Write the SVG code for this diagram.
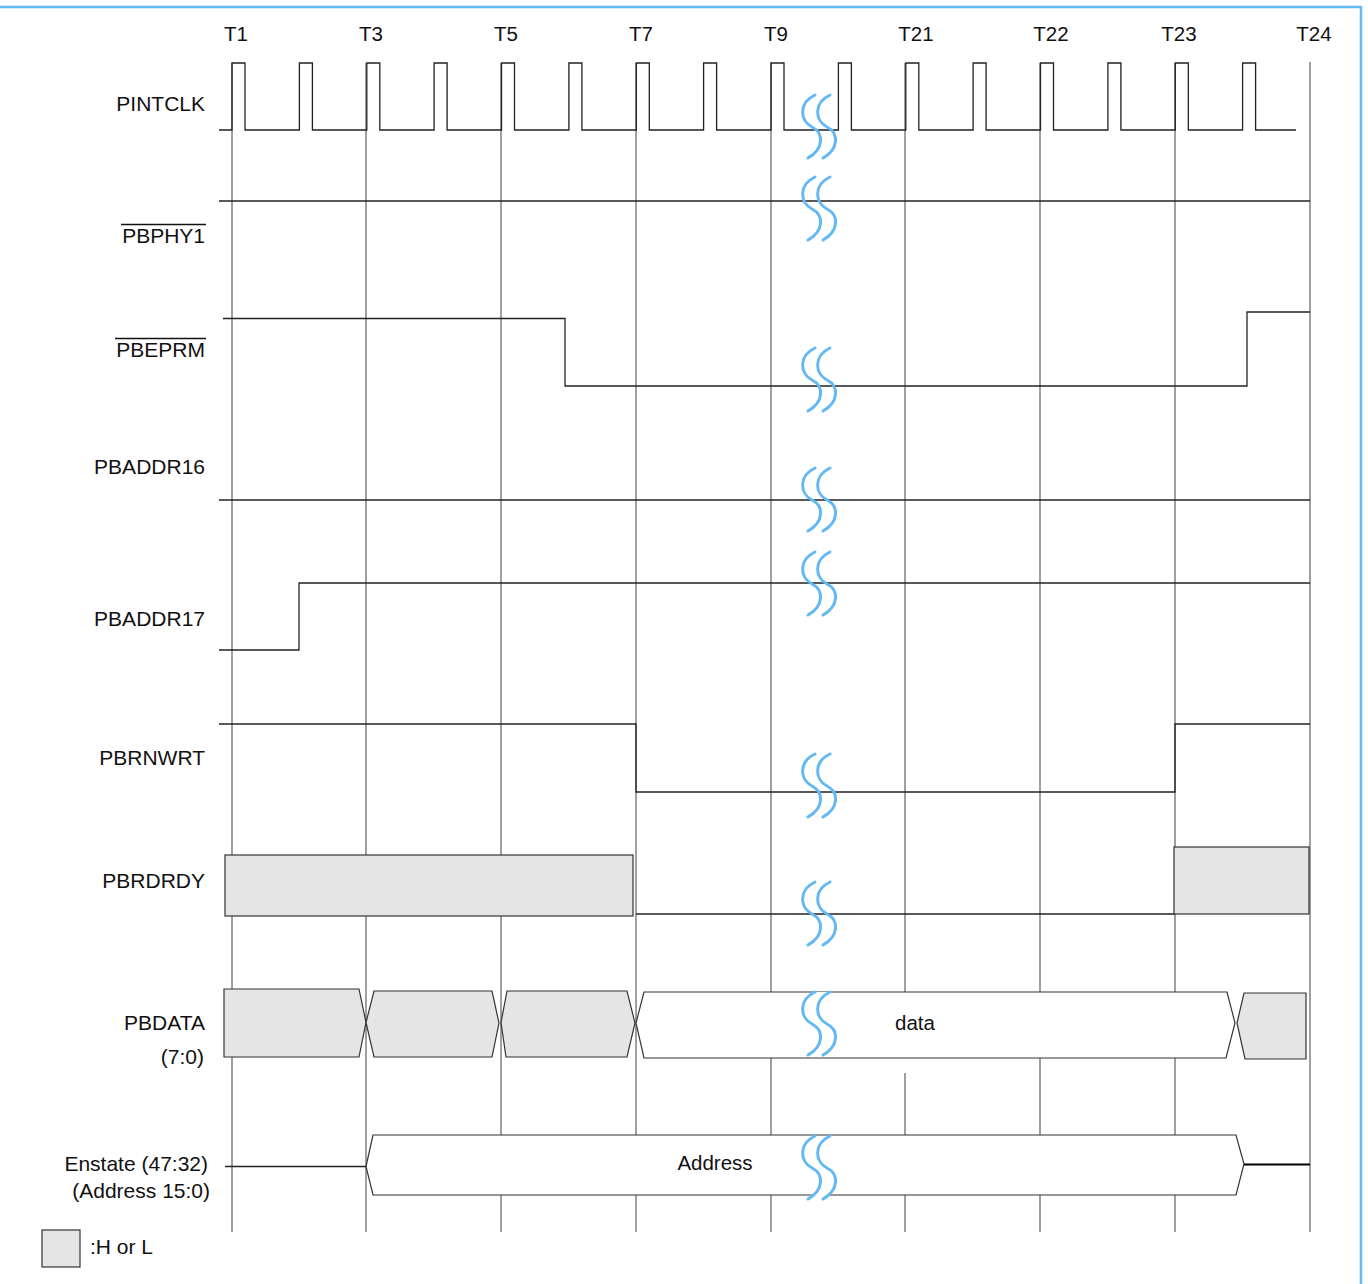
<svg xmlns="http://www.w3.org/2000/svg" width="1368" height="1284" viewBox="0 0 1368 1284">
<style>
text{font-family:"Liberation Sans",Arial,sans-serif;font-size:21px;fill:#111}
.lbl{text-anchor:end}
.tk{text-anchor:middle;font-size:20.5px}
.grid{stroke:#808080;stroke-width:1.5;fill:none}
.sig{stroke:#222;stroke-width:1.3;fill:none}
.hl{fill:#e5e5e5;stroke:#333;stroke-width:1.2}
.wb{fill:#fff;stroke:#333;stroke-width:1.2}
.brkc{fill:none;stroke:#64b8f4;stroke-width:3;stroke-linecap:round}
.brkf{fill:#fff;stroke:none}
.frame{stroke:#64b8f4;stroke-width:2.5;fill:none}
</style>
<defs>
<g id="brk">
<path class="brkf" d="M 3 -32 C -14 -24 -12 -6 0 0 C 12 6 12 22 -4 31 L 11 31 C 27 22 27 6 15 0 C 3 -6 1 -24 18 -32 Z"/>
<path class="brkc" d="M 3 -32 C -14 -24 -12 -6 0 0 C 12 6 12 22 -4 31"/>
<path class="brkc" d="M 18 -32 C 1 -24 3 -6 15 0 C 27 6 27 22 11 31"/>
</g>
<g id="brko">
<path class="brkc" d="M 3 -32 C -14 -24 -12 -6 0 0 C 12 6 12 22 -4 31"/>
<path class="brkc" d="M 18 -32 C 1 -24 3 -6 15 0 C 27 6 27 22 11 31"/>
</g>
</defs>

<g id="frame">
<line class="frame" x1="0" y1="7" x2="1362" y2="7"/>
<line class="frame" x1="1361" y1="6" x2="1361" y2="1284"/>
</g>

<g id="grid">
<line class="grid" x1="232" y1="63" x2="232" y2="1232"/>
<line class="grid" x1="366" y1="63" x2="366" y2="1232"/>
<line class="grid" x1="501" y1="63" x2="501" y2="1232"/>
<line class="grid" x1="636" y1="63" x2="636" y2="1232"/>
<line class="grid" x1="771" y1="63" x2="771" y2="1232"/>
<line class="grid" x1="905" y1="63" x2="905" y2="992"/>
<line class="grid" x1="905" y1="1073" x2="905" y2="1232"/>
<line class="grid" x1="1040" y1="63" x2="1040" y2="1232"/>
<line class="grid" x1="1175" y1="63" x2="1175" y2="1232"/>
<line class="grid" x1="1310" y1="62" x2="1310" y2="1232"/>
</g>

<g id="ticks">
<text class="tk" x="236" y="41">T1</text>
<text class="tk" x="371" y="41">T3</text>
<text class="tk" x="506" y="41">T5</text>
<text class="tk" x="641" y="41">T7</text>
<text class="tk" x="776" y="41">T9</text>
<text class="tk" x="916" y="41">T21</text>
<text class="tk" x="1051" y="41">T22</text>
<text class="tk" x="1179" y="41">T23</text>
<text class="tk" x="1314" y="41">T24</text>
</g>

<g id="labels">
<text class="lbl" x="205" y="111">PINTCLK</text>
<text class="lbl" x="205" y="243">PBPHY1</text>
<line x1="121" y1="224.5" x2="206" y2="224.5" stroke="#111" stroke-width="1.5"/>
<text class="lbl" x="205" y="357">PBEPRM</text>
<line x1="115" y1="338.5" x2="206" y2="338.5" stroke="#111" stroke-width="1.5"/>
<text class="lbl" x="205" y="474">PBADDR16</text>
<text class="lbl" x="205" y="626">PBADDR17</text>
<text class="lbl" x="205" y="765">PBRNWRT</text>
<text class="lbl" x="205" y="888">PBRDRDY</text>
<text class="lbl" x="205" y="1030">PBDATA</text>
<text class="lbl" x="204" y="1064">(7:0)</text>
<text class="lbl" x="208" y="1171">Enstate (47:32)</text>
<text class="lbl" x="210" y="1198">(Address 15:0)</text>
</g>

<g id="sig-pintclk">
<path class="sig" d="M219 130 H232 V63 H245 V130 H299.4 V63 H312.4 V130 H366.8 V63 H379.8 V130 H434.1 V63 H447.1 V130 H501.5 V63 H514.5 V130 H568.9 V63 H581.9 V130 H636.3 V63 H649.3 V130 H703.6 V63 H716.6 V130 H771 V63 H784 V130 H838.4 V63 H851.4 V130 H905.8 V63 H918.8 V130 H973.1 V63 H986.1 V130 H1040.5 V63 H1053.5 V130 H1107.9 V63 H1120.9 V130 H1175.3 V63 H1188.3 V130 H1242.6 V63 H1255.6 V130 H1296"/>
</g>

<g id="sig-pbphy1">
<path class="sig" d="M219 201 H1310"/>
</g>

<g id="sig-pbeprm">
<path class="sig" d="M223 318.5 H565 V386 H1247 V312 H1310"/>
</g>

<g id="sig-pbaddr16">
<path class="sig" d="M219 500 H1310"/>
</g>

<g id="sig-pbaddr17">
<path class="sig" d="M219 650 H299 V583 H1310"/>
</g>

<g id="sig-pbrnwrt">
<path class="sig" d="M219 724 H636 V792 H1175 V724 H1310"/>
</g>

<g id="sig-pbrdrdy">
<rect class="hl" x="225" y="855" width="408" height="61"/>
<path class="sig" d="M636 914 H1175"/>
<rect class="hl" x="1174" y="847" width="135" height="67"/>
</g>

<g id="sig-pbdata">
<path class="hl" d="M224 989 H359 L366 1022.5 L359 1057 H224 Z"/>
<path class="hl" d="M366 1022.5 L374 991 H492 L499 1023 L492 1057 H374 Z"/>
<path class="hl" d="M501 1022.5 L507 991 H627 L635 1023 L627 1057 H506 Z"/>
<path class="wb" d="M636 1023 L644 992 H1227 L1235 1023 L1226 1058 H644 Z"/>
<path class="hl" d="M1237 1023 L1244 993 H1306 V1059 H1245 Z"/>
<text class="tk" x="915" y="1030">data</text>
</g>

<g id="sig-enstate">
<path class="sig" d="M225 1166.5 H366"/>
<path class="wb" d="M366 1166.5 L373 1135 H1236 L1244 1164 L1236 1195 H373 Z"/>
<path d="M1244 1164.5 H1310" stroke="#000" stroke-width="2.2" fill="none"/>
<text class="tk" x="715" y="1170">Address</text>
</g>

<g id="breaks">
<use href="#brko" x="812" y="127"/>
<use href="#brko" x="812" y="209"/>
<use href="#brko" x="812" y="380"/>
<use href="#brko" x="812" y="500"/>
<use href="#brko" x="812" y="584"/>
<use href="#brko" x="812" y="786"/>
<use href="#brko" x="812" y="914"/>
<use href="#brk" x="812" y="1024"/>
<use href="#brk" x="812" y="1168"/>
</g>

<g id="legend">
<rect class="hl" x="42" y="1230" width="38" height="37"/>
<text x="90" y="1254">:H or L</text>
</g>
</svg>
